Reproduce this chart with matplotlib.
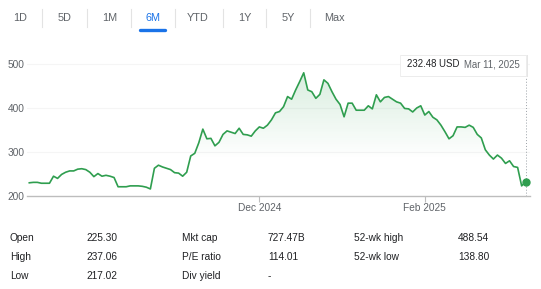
import matplotlib
matplotlib.use("Agg")
import matplotlib.pyplot as plt
import numpy as np
from matplotlib.patches import Rectangle

plt.rcParams['font.family'] = ['Liberation Sans', 'DejaVu Sans']

# closing prices, one per trading day, Sep 11 2024 .. Mar 11 2025
prices = [230, 231, 231, 229, 229, 229, 245, 240, 249, 254,
          257, 257, 261, 262, 260, 254, 244, 251, 245, 247,
          245, 242, 221, 221, 221, 223, 223, 223, 222, 220,
          216, 263, 270, 266, 263, 260, 253, 252, 245, 254,
          291, 297, 321, 352, 330, 331, 314, 322, 340, 348,
          345, 342, 354, 340, 339, 336, 348, 357, 354, 361,
          373, 389, 392, 403, 426, 420, 441, 460, 480, 441,
          437, 422, 431, 464, 456, 437, 420, 408, 380, 411,
          411, 395, 395, 395, 405, 398, 430, 414, 424, 426,
          420, 414, 411, 399, 398, 391, 400, 405, 384, 392,
          379, 373, 361, 346, 330, 337, 357, 357, 356, 361,
          356, 340, 332, 305, 293, 284, 293, 286, 274, 280,
          267, 265, 223, 232.48]
x_ticks = [57, 98]
x_ticklabels = ['Dec 2024', 'Feb 2025']
y_ticks = [200, 300, 400, 500]

tabs = ['1D', '5D', '1M', '6M', 'YTD', '1Y', '5Y', 'Max']
tab_x = [20, 65, 110, 153, 198, 245, 288, 334]
sep_x = [42, 87, 131, 175, 223, 266, 310]

stat_labels = [['Open', 'High', 'Low'],
               ['Mkt cap', 'P/E ratio', 'Div yield'],
               ['52-wk high', '52-wk low', '']]
stat_values = [['225.30', '237.06', '217.02'],
               ['727.47B', '114.01', '-'],
               ['488.54', '138.80', '']]

W, H = 541, 289
green = '#2f9e4f'
grey_txt = '#5f6368'

fig = plt.figure(figsize=(W / 100, H / 100), dpi=100)
fig.patch.set_facecolor('white')

def fx(x):
    return x / W

def fy(y):
    return 1 - y / H

# main chart axes
ax = fig.add_axes([fx(27), fy(196), fx(503), 151 / H])
n = len(prices)
xs = np.arange(n)
ax.set_xlim(-0.57, n - 1 + 1.07)
ax.set_ylim(200, 200 + 151 / 0.44)

# gradient fill under the line
ymin, ymax = ax.get_ylim()
grad = np.linspace(0, 1, 256)[:, None]
alpha = np.clip((grad * (ymax - ymin) + ymin - 285) / (480 - 285), 0, 1) * 0.18
rgba = np.zeros((256, 1, 4))
rgba[..., 0] = 0.18
rgba[..., 1] = 0.62
rgba[..., 2] = 0.31
rgba[..., 3] = alpha
img = ax.imshow(rgba, extent=[xs[0], xs[-1], ymin, ymax], origin='lower',
                aspect='auto', zorder=1, interpolation='bilinear')
poly = ax.fill_between(xs, prices, 200, color='none', lw=0)
img.set_clip_path(poly.get_paths()[0], ax.transData)

for v in [300, 400, 500]:
    ax.axhline(v, color='#f5f5f5', lw=0.8, zorder=0)

ax.plot(xs, prices, color=green, lw=1.2, zorder=3, solid_joinstyle='round')
ax.plot(xs[-1], prices[-1], 'o', color=green, ms=5, zorder=4)
ax.plot([xs[-1], xs[-1]], [200, 200 + (196 - 55) / 0.44], color='#9aa0a6',
        lw=0.7, ls=(0, (1, 2)), zorder=2)

for s in ['top', 'right', 'left']:
    ax.spines[s].set_visible(False)
ax.spines['bottom'].set_color('#bdbdbd')
ax.spines['bottom'].set_linewidth(1.0)
ax.set_xticks(x_ticks)
ax.set_xticklabels(x_ticklabels)
ax.set_yticks(y_ticks)
ax.set_yticklabels([str(v) for v in y_ticks])
ax.tick_params(axis='x', length=4, color='#bdbdbd', pad=1, labelsize=7.3,
               labelcolor=grey_txt)
ax.tick_params(axis='y', length=0, pad=2, labelsize=7.3, labelcolor=grey_txt)
ax.set_facecolor('none')

# tooltip
fig.patches.append(Rectangle((fx(401), fy(77)), fx(127), 22 / H,
                             transform=fig.transFigure, facecolor='#e6e6e6',
                             edgecolor='none', zorder=5))
fig.patches.append(Rectangle((fx(400), fy(76)), fx(126), 21 / H,
                             transform=fig.transFigure, facecolor='white',
                             edgecolor='#ececec', lw=0.6, zorder=6))
fig.text(fx(407), fy(64), '232.48 USD', fontsize=6.9, color='#202124',
         va='center', zorder=7)
fig.text(fx(464), fy(64), 'Mar 11, 2025', fontsize=6.9, color=grey_txt,
         va='center', zorder=7)

# range tabs
for lab, x in zip(tabs, tab_x):
    fig.text(fx(x), fy(18), lab, fontsize=7.8, ha='center', va='center',
             color='#1a73e8' if lab == '6M' else grey_txt)
for x in sep_x:
    fig.add_artist(plt.Line2D([fx(x), fx(x)], [fy(9), fy(27)],
                              color='#e3e3e3', lw=0.8))
fig.add_artist(plt.Line2D([fx(140), fx(165)], [fy(29.5), fy(29.5)],
                          color='#1a73e8', lw=2.4, solid_capstyle='round'))

# stats table
col_lab = [10, 182, 354]
col_val = [86, 268, 458]
row_y = [238, 257, 276]
for c in range(3):
    for r in range(3):
        fig.text(fx(col_lab[c]), fy(row_y[r]), stat_labels[c][r], fontsize=7.3,
                 color='#202124', va='center')
        fig.text(fx(col_val[c]), fy(row_y[r]), stat_values[c][r], fontsize=7.3,
                 color='#202124', va='center')

fig.savefig('out.png', dpi=100, facecolor='white')
